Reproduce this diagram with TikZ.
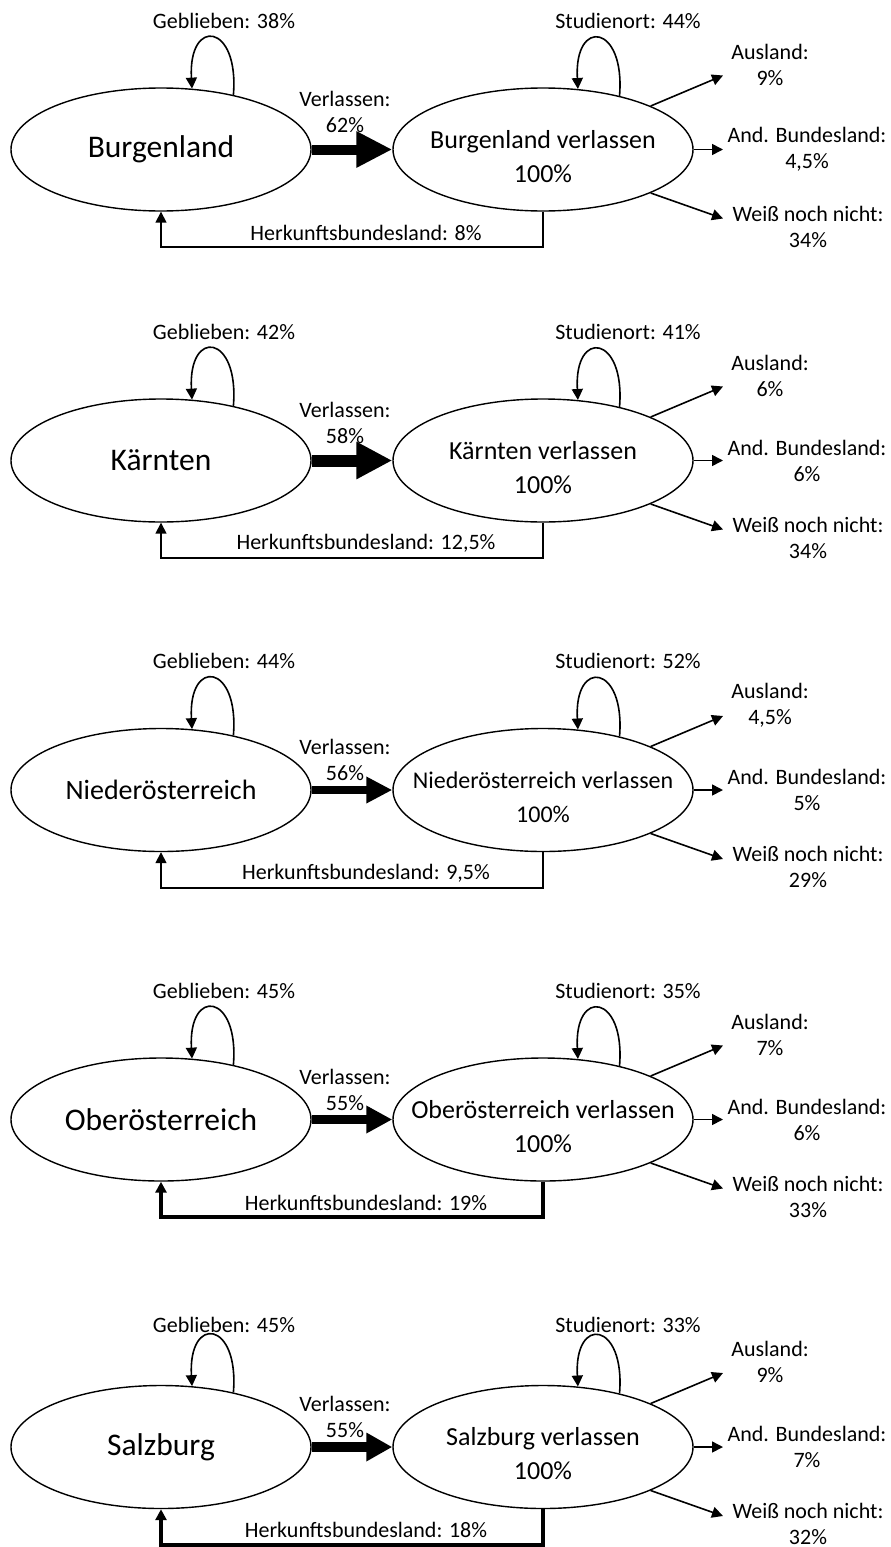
\documentclass[tikz,border=0pt]{standalone}
\usepackage{fontspec}
\setmainfont{Carlito}
\usetikzlibrary{shapes.geometric,arrows.meta}

\tikzset{
  land/.style={draw, ellipse, line width=1.4pt, minimum width=300pt, minimum height=123pt, inner sep=0pt},
  srcfont/.style={font=\fontsize{31.5}{36}\selectfont},
  dstfont/.style={font=\fontsize{26}{34}\selectfont},
  lbl/.style={inner sep=0pt, align=center, font=\fontsize{22}{26}\selectfont},
  toplbl/.style={},
  verllbl/.style={},
  pfeil/.style={line width=1.6pt, -{Triangle[length=11pt,width=11pt]}},
  rueck/.style={pfeil, line width=1.6pt},
  abwandern/.style={line width=10pt, -{Triangle[length=36pt,width=34pt]}}
}

% #1 scope options, #2 Bundesland, #3 geblieben, #4 verlassen,
% #5 Studienort, #6 Ausland, #7 and. Bundesland, #8 weiss nicht, #9 Herkunft
\newcommand{\wanderung}[9]{%
  \begin{scope}[#1]
    % the two states
    \node[land, srcfont] (heim) at (161,0) {#2};
    \node[land] (weg) at (543,0) {};
    \node[dstfont, align=center, inner sep=0pt] (weg-text) at (543,7) {#2 verlassen\\100\%};
    % stayed
    \draw[pfeil] (heim.37) .. controls +(6,-72) and +(-4,-72) .. (heim.63);
    \node[lbl, toplbl] (bleibe-text) at (224,-129) {Geblieben: #3};
    % left
    \draw[abwandern] (heim) -- (weg);
    \node[lbl, verllbl] (verl-text) at (345,-38) {Verlassen:\\#4};
    % study place
    \draw[pfeil] (weg.35) .. controls +(6,-72) and +(-4,-72) .. (weg.60);
    \node[lbl, toplbl] (studien-text) at (628,-129) {Studienort: #5};
    % back home
    \draw[rueck] (weg.south) -- ++(0,35.5) -| (heim.south);
    \node[lbl] (rueck-text) at (366,83) {Herkunftsbundesland: #9};
    % outgoing
    \coordinate (ausland) at (723,-74);
    \coordinate (anders) at (723,0);
    \coordinate (unklar) at (723,69);
    \draw[pfeil] (weg.22) -- (ausland);
    \draw[pfeil] (weg) -- (anders);
    \draw[pfeil] (weg.-22) -- (unklar);
    \node[lbl] (ausland-text) at (770,-85) {Ausland:\\#6};
    \node[lbl] (anders-text) at (807,0) {And. Bundesland:\\#7};
    \node[lbl] (unklar-text) at (808,77) {Weiß noch nicht:\\#8};
  \end{scope}}

\begin{document}
\begin{tikzpicture}[x=1pt, y=-1pt]
  \useasboundingbox (0,0) rectangle (891,1547);

  \wanderung{shift={(0,149.5)}}{Burgenland}{38\%}{62\%}{44\%}{9\%}{4,5\%}{34\%}{8\%}
  \wanderung{shift={(0,460.5)}, abwandern/.style={line width=12pt, -{Triangle[length=36pt,width=35pt]}}}{Kärnten}{42\%}{58\%}{41\%}{6\%}{6\%}{34\%}{12,5\%}
  \wanderung{shift={(0,790)}, srcfont/.style={font=\fontsize{28}{32}\selectfont},
    dstfont/.style={font=\fontsize{24}{34}\selectfont}, verllbl/.style={yshift=-8pt},
    abwandern/.style={line width=8pt, -{Triangle[length=26pt,width=25pt]}}}{Niederösterreich}{44\%}{56\%}{52\%}{4,5\%}{5\%}{29\%}{9,5\%}
  \wanderung{shift={(0,1119.5)}, verllbl/.style={yshift=-8pt}, rueck/.style={pfeil, line width=4pt},
    abwandern/.style={line width=9pt, -{Triangle[length=26pt,width=26pt]}}}{Oberösterreich}{45\%}{55\%}{35\%}{7\%}{6\%}{33\%}{19\%}
  \wanderung{shift={(0,1447)}, verllbl/.style={yshift=-8pt}, toplbl/.style={yshift=-7pt},
    rueck/.style={pfeil, line width=4pt},
    abwandern/.style={line width=10pt, -{Triangle[length=26pt,width=27pt]}}}{Salzburg}{45\%}{55\%}{33\%}{9\%}{7\%}{32\%}{18\%}
\end{tikzpicture}
\end{document}
